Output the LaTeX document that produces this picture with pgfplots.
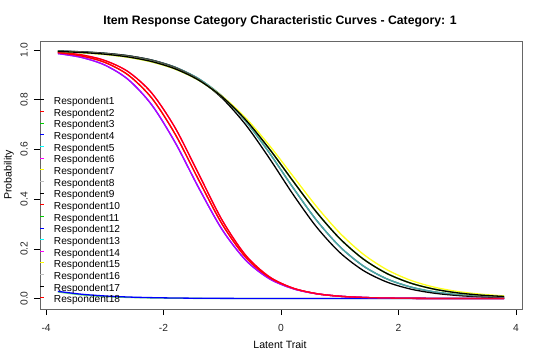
\documentclass[border=0pt]{standalone}
\usepackage{fontspec}
\setmainfont{Liberation Sans}
\usepackage{pgfplots}
\pgfplotsset{compat=1.18}
\definecolor{rblack}{RGB}{0,0,0}
\definecolor{rred}{RGB}{255,0,0}
\definecolor{rgreen}{RGB}{0,205,0}
\definecolor{rblue}{RGB}{0,0,255}
\definecolor{rcyan}{RGB}{0,255,255}
\definecolor{rmagenta}{RGB}{255,0,255}
\definecolor{ryellow}{RGB}{255,255,0}
\definecolor{rgray}{RGB}{190,190,190}

% Left group curves
\pgfplotstableread{
x y
-3.8 0.9886
-3.4 0.9760
-3.0 0.9500
-2.6 0.8989
-2.2 0.8061
-1.8 0.6604
-1.4 0.4763
-1.0 0.2984
-0.6 0.1659
-0.2 0.0851
0.2 0.0417
0.6 0.0199
1.0 0.0094
1.4 0.0044
1.8 0.0021
2.2 0.0010
2.6 0.0005
3.0 0.0002
3.4 0.0001
3.8 0.0000
}\Lone
\pgfplotstableread{
x y
-3.8 0.9855
-3.4 0.9701
-3.0 0.9392
-2.6 0.8806
-2.2 0.7787
-1.8 0.6267
-1.4 0.4447
-1.0 0.2765
-0.6 0.1542
-0.2 0.0800
0.2 0.0399
0.6 0.0194
1.0 0.0094
1.4 0.0045
1.8 0.0021
2.2 0.0010
2.6 0.0005
3.0 0.0002
3.4 0.0001
3.8 0.0000
}\Ltwo
\pgfplotstableread{
x y
-3.8 0.9908
-3.4 0.9802
-3.0 0.9577
-2.6 0.9121
-2.2 0.8264
-1.8 0.6857
-1.4 0.5000
-1.0 0.3143
-0.6 0.1736
-0.2 0.0879
0.2 0.0423
0.6 0.0198
1.0 0.0092
1.4 0.0042
1.8 0.0019
2.2 0.0009
2.6 0.0004
3.0 0.0002
3.4 0.0001
3.8 0.0000
}\Lthree
% Right group curves
\pgfplotstableread{
x y
-3.8 0.9955
-3.4 0.9921
-3.0 0.9862
-2.6 0.9761
-2.2 0.9589
-1.8 0.9302
-1.4 0.8839
-1.0 0.8131
-0.6 0.7130
-0.2 0.5866
0.2 0.4477
0.6 0.3165
1.0 0.2092
1.4 0.1313
1.8 0.0794
2.2 0.0470
2.6 0.0274
3.0 0.0158
3.4 0.0091
3.8 0.0052
}\Rone
\pgfplotstableread{
x y
-3.8 0.9939
-3.4 0.9898
-3.0 0.9830
-2.6 0.9717
-2.2 0.9533
-1.8 0.9239
-1.4 0.8783
-1.0 0.8109
-0.6 0.7183
-0.2 0.6025
0.2 0.4740
0.6 0.3489
1.0 0.2416
1.4 0.1592
1.8 0.1012
2.2 0.0627
2.6 0.0383
3.0 0.0231
3.4 0.0139
3.8 0.0083
}\Rtwo
\pgfplotstableread{
x y
-3.8 0.9959
-3.4 0.9926
-3.0 0.9869
-2.6 0.9768
-2.2 0.9593
-1.8 0.9296
-1.4 0.8809
-1.0 0.8055
-0.6 0.6987
-0.2 0.5649
0.2 0.4209
0.6 0.2893
1.0 0.1856
1.4 0.1131
1.8 0.0667
2.2 0.0385
2.6 0.0219
3.0 0.0124
3.4 0.0070
3.8 0.0039
}\Rthree
\pgfplotstableread{
x y
-3.8 0.9931
-3.4 0.9887
-3.0 0.9816
-2.6 0.9700
-2.2 0.9514
-1.8 0.9224
-1.4 0.8781
-1.0 0.8138
-0.6 0.7261
-0.2 0.6166
0.2 0.4938
0.6 0.3717
1.0 0.2641
1.4 0.1787
1.8 0.1166
2.2 0.0741
2.6 0.0463
3.0 0.0286
3.4 0.0176
3.8 0.0107
}\Rfour
% Flat curves
\pgfplotstableread{
x y
-3.8 0.0290
-3.4 0.0175
-3.0 0.0105
-2.6 0.0062
-2.2 0.0037
-1.8 0.0022
-1.4 0.0013
-1.0 0.0008
-0.6 0.0005
-0.2 0.0003
0.2 0.0002
0.6 0.0001
1.0 0.0001
1.4 0.0000
1.8 0.0000
2.2 0.0000
2.6 0.0000
3.0 0.0000
3.4 0.0000
3.8 0.0000
}\Fone
\pgfplotstableread{
x y
-3.8 0.0266
-3.4 0.0148
-3.0 0.0082
-2.6 0.0045
-2.2 0.0025
-1.8 0.0014
-1.4 0.0007
-1.0 0.0004
-0.6 0.0002
-0.2 0.0001
0.2 0.0000
0.6 0.0000
1.0 0.0000
1.4 0.0000
1.8 0.0000
2.2 0.0000
2.6 0.0000
3.0 0.0000
3.4 0.0000
3.8 0.0000
}\Ftwo

\begin{document}
\begin{tikzpicture}
\path[use as bounding box] (-40bp,-51bp) rectangle (500bp,309bp);
\begin{axis}[
  name=ax, at={(0,0)}, anchor=south west, scale only axis,
  width=482bp, height=268bp,
  xmin=-4.104, xmax=4.104, ymin=-0.042, ymax=1.036,
  xtick={-4,-2,0,2,4}, ytick={0,0.2,0.4,0.6,0.8,1},
  tick align=outside, major tick length=6bp, tick pos=left,
  axis line style={black!60, line width=0.7bp},
  every tick/.style={black, line width=0.6bp},
  /pgf/number format/assume math mode=true,
  ticklabel style={font=\fontsize{10.3}{12}\selectfont, text=black!85},
  xticklabel style={anchor=center, yshift=-13bp},
  yticklabel style={anchor=center, xshift=-10bp, rotate=90},
  yticklabel={\pgfmathprintnumber[fixed,fixed zerofill,precision=1]{\tick}},
  xticklabel={\pgfmathprintnumber{\tick}},
  legend style={draw=none, fill=none, inner sep=0pt, outer sep=0pt,
    at={(axis description cs:0,0.7896)}, anchor=north west,
    font=\fontsize{10.2}{11}\selectfont, row sep=1.85bp, column sep=9bp,
    nodes={inner sep=0pt, text height=7.3bp, text depth=2.5bp}},
  legend cell align=left,
  legend image code/.code={\draw[#1, line width=1bp, opacity=1] (0bp,2.4bp) -- (4bp,2.4bp);},
  every axis plot/.append style={line width=1.3bp, smooth},
  clip=true,
]
\addplot[rblack] table {\Rone};
\addlegendentry{Respondent1}
\addplot[rred] table {\Lone};
\addlegendentry{Respondent2}
\addplot[rgreen, opacity=0.6] table {\Rtwo};
\addlegendentry{Respondent3}
\addplot[rblue] table {\Ltwo};
\addlegendentry{Respondent4}
\addplot[rcyan, opacity=0.6] table {\Rone};
\addlegendentry{Respondent5}
\addplot[rmagenta] table {\Lthree};
\addlegendentry{Respondent6}
\addplot[ryellow, opacity=0.9] table {\Rfour};
\addlegendentry{Respondent7}
\addplot[rgray, opacity=0.4] table {\Rtwo};
\addlegendentry{Respondent8}
\addplot[rblack] table {\Rthree};
\addlegendentry{Respondent9}
\addplot[rred] table {\Lthree};
\addlegendentry{Respondent10}
\addplot[rgreen, opacity=0.6] table {\Ftwo};
\addlegendentry{Respondent11}
\addplot[rblue] table {\Fone};
\addlegendentry{Respondent12}
\addplot[rcyan, opacity=0.5] table {\Rtwo};
\addlegendentry{Respondent13}
\addplot[rmagenta, opacity=0.7] table {\Ltwo};
\addlegendentry{Respondent14}
\addplot[ryellow, opacity=0.8] table {\Rtwo};
\addlegendentry{Respondent15}
\addplot[rgray, opacity=0.4] table {\Rone};
\addlegendentry{Respondent16}
\addplot[rblack] table {\Rtwo};
\addlegendentry{Respondent17}
\addplot[rred, opacity=0.8] table {\Lone};
\addlegendentry{Respondent18}
\end{axis}
\node[font=\bfseries\fontsize{12.3}{14}\selectfont] at (240bp,288bp) {Item Response Category Characteristic Curves - Category: 1};
\node[font=\fontsize{10.6}{12}\selectfont] at (240bp,-36bp) {Latent Trait};
\node[font=\fontsize{10.6}{12}\selectfont, rotate=90] at (-31bp,134bp) {Probability};
\end{tikzpicture}
\end{document}
